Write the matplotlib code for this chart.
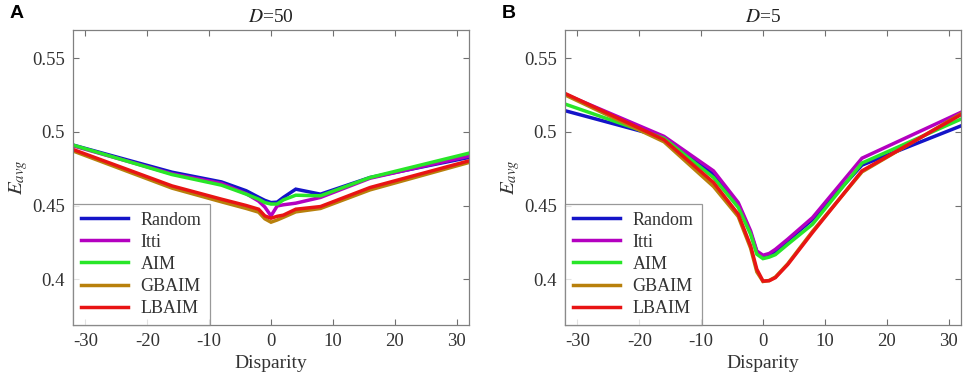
import matplotlib
matplotlib.use("Agg")
import matplotlib.pyplot as plt

plt.rcParams['font.family'] = ['Liberation Serif', 'DejaVu Serif']
plt.rcParams['mathtext.fontset'] = 'stix'

disparity = [-32, -16, -8, -4, -2, -1, 0, 1, 2, 4, 8, 16, 32]
methods = ['Random', 'Itti', 'AIM', 'GBAIM', 'LBAIM']
colors = ['#1414c8', '#b400c0', '#28e628', '#b8800c', '#e81414']

# Panel A: D=50
a_random = [0.491, 0.4726, 0.466, 0.460, 0.4556, 0.4535, 0.452, 0.4523, 0.4555, 0.4611, 0.4577, 0.469, 0.4826]
a_itti   = [0.4905, 0.4715, 0.465, 0.458, 0.453, 0.449, 0.443, 0.4497, 0.4505, 0.4516, 0.4555, 0.4685, 0.4835]
a_aim    = [0.491, 0.471, 0.4638, 0.4577, 0.4543, 0.452, 0.451, 0.451, 0.4538, 0.457, 0.4566, 0.469, 0.4855]
a_gbaim  = [0.487, 0.4618, 0.4525, 0.448, 0.4455, 0.441, 0.4387, 0.4402, 0.442, 0.4457, 0.448, 0.4606, 0.4792]
a_lbaim  = [0.488, 0.4633, 0.4543, 0.450, 0.4475, 0.443, 0.4414, 0.4427, 0.4435, 0.4475, 0.4493, 0.4622, 0.4803]

# Panel B: D=5
b_random = [0.5143, 0.4962, 0.4713, 0.4505, 0.4315, 0.4185, 0.4155, 0.4165, 0.419, 0.4262, 0.4405, 0.4774, 0.504]
b_itti   = [0.5255, 0.4969, 0.4735, 0.452, 0.4328, 0.4192, 0.4163, 0.4175, 0.4203, 0.4272, 0.4418, 0.4821, 0.5132]
b_aim    = [0.5188, 0.4955, 0.469, 0.4487, 0.4305, 0.417, 0.414, 0.415, 0.4167, 0.4237, 0.4373, 0.4788, 0.5086]
b_gbaim  = [0.525, 0.4932, 0.4629, 0.4425, 0.421, 0.405, 0.3985, 0.3992, 0.4015, 0.4105, 0.4325, 0.4728, 0.5122]
b_lbaim  = [0.526, 0.4946, 0.4656, 0.4441, 0.4226, 0.4068, 0.3988, 0.399, 0.4011, 0.410, 0.4317, 0.4735, 0.5116]

panels = [
    ('A', r'$D$=50', [a_random, a_itti, a_aim, a_gbaim, a_lbaim]),
    ('B', r'$D$=5', [b_random, b_itti, b_aim, b_gbaim, b_lbaim]),
]

xticks = [-30, -20, -10, 0, 10, 20, 30]
yticks = [0.4, 0.45, 0.5, 0.55]
yticklabels = ['0.4', '0.45', '0.5', '0.55']

W, H = 965, 384
fig = plt.figure(figsize=(W / 100, H / 100), dpi=100)
lefts = [73, 565]
for (lab, title, series), lpx in zip(panels, lefts):
    ax = fig.add_axes([lpx / W, 1 - 325 / H, 396 / W, 295 / H])
    for name, col, ys in zip(methods, colors, series):
        ax.plot(disparity, ys, color=col, lw=2.5, label=name, solid_joinstyle='miter')
    ax.set_xlim(-32, 32)
    ax.set_ylim(0.369, 0.569)
    ax.set_xticks(xticks)
    ax.set_xticklabels([str(t) for t in xticks])
    ax.set_yticks(yticks)
    ax.set_yticklabels(yticklabels)
    ax.tick_params(direction='in', top=True, right=True, length=4, width=0.8,
                   color='#707070', labelsize=13.5, labelcolor='#333333', pad=6)
    for s in ax.spines.values():
        s.set_color('#808080')
        s.set_linewidth(0.9)
    ax.set_title(title, fontsize=14, color='#222222', pad=6)
    ax.set_xlabel('Disparity', fontsize=14, color='#333333', labelpad=3)
    ax.set_ylabel(r'$E_{avg}$', fontsize=15, color='#333333', labelpad=1)
    leg = ax.legend(loc='lower left', fontsize=13, frameon=True, fancybox=False,
                    handlelength=2.6, handletextpad=0.7, borderaxespad=0,
                    labelspacing=0.28, borderpad=0.45)
    leg.get_frame().set_edgecolor('#808080')
    leg.get_frame().set_linewidth(0.9)
    for t in leg.get_texts():
        t.set_color('#333333')
    fig.text((lpx - 63) / W, 1 - 13 / H, lab, fontsize=14, fontweight='bold',
             family='Liberation Sans', va='center', ha='left')

fig.savefig('out.png', dpi=100)
